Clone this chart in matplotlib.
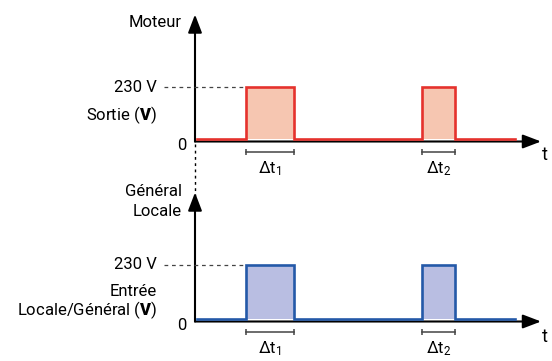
import matplotlib
matplotlib.use("Agg")
import matplotlib.pyplot as plt
from matplotlib.lines import Line2D
from matplotlib import transforms

plt.rcParams['font.family'] = ['Roboto', 'DejaVu Sans']
plt.rcParams['mathtext.fontset'] = 'custom'
plt.rcParams['mathtext.rm'] = 'Roboto'
plt.rcParams['mathtext.it'] = 'Roboto'
plt.rcParams['mathtext.bf'] = 'Roboto:black'

# ---- data ----
time = [0.05, 1.06, 1.06, 2.06, 2.06, 4.73, 4.73, 5.42, 5.42, 6.67]
moteur_v = [0, 0, 230, 230, 0, 0, 230, 230, 0, 0]
entree_v = [0, 0, 230, 230, 0, 0, 230, 230, 0, 0]
pulses = [(1.06, 2.06), (4.73, 5.42)]
dt_labels = [r'Δt$_{1}$', r'Δt$_{2}$']
level_label = '230 V'
level = 230

RED, RED_FILL = '#e5322d', '#f6c6b1'
BLUE, BLUE_FILL = '#2459a8', '#b9bee2'
GRAY = '#444444'
FS = 12

W, H = 552, 361
fig = plt.figure(figsize=(W / 100, H / 100), dpi=100)

xmax = 7.21
ax1 = fig.add_axes([195 / W, (H - 139) / H, 346 / W, 127 / H])
ax2 = fig.add_axes([195 / W, (H - 319) / H, 346 / W, 129 / H])
ax1.set_ylim(0, 562)
ax2.set_ylim(0, 549)


def draw(ax, v, col, fcol, title_lines, side_lines, t_dy):
    ax.set_xlim(0, xmax)
    ax.axis('off')
    # pulses fill
    for (a, b) in pulses:
        ax.fill_between([a, b], 0, level, color=fcol, lw=0, zorder=1)
    ax.plot(time, v, color=col, lw=1.9, zorder=3, solid_joinstyle='miter',
            clip_on=False)
    # axes arrows
    down = transforms.offset_copy(ax.transAxes, fig, x=0, y=-2.5, units='dots')
    ax.annotate('', xy=(1, 0), xytext=(0, 0), xycoords=down, textcoords=down,
                arrowprops=dict(arrowstyle='-|>,head_length=1.1,head_width=0.42',
                                mutation_scale=10, color='black', lw=1.5,
                                shrinkA=0, shrinkB=0), zorder=2)
    ax.annotate('', xy=(0, 1), xytext=(0, 0), xycoords=down, textcoords=down,
                arrowprops=dict(arrowstyle='-|>,head_length=1.1,head_width=0.42',
                                mutation_scale=10, color='black', lw=1.5,
                                shrinkA=0, shrinkB=0), zorder=2)
    # dashed level line
    ax.plot([-0.64, pulses[0][0]], [level, level], color=GRAY, lw=0.9,
            ls=(0, (3, 3)), clip_on=False)
    # level labels
    ax.annotate(level_label, xy=(0, level), xytext=(-38, 0),
                textcoords='offset pixels', ha='right', va='center', fontsize=FS)
    ax.annotate('0', xy=(0, 0), xytext=(-8, -6), textcoords='offset pixels',
                ha='right', va='center', fontsize=FS)
    for txt, dy in title_lines:
        ax.annotate(txt, xy=(0, 1), xycoords='axes fraction', xytext=(-13, dy),
                    textcoords='offset pixels', ha='right', va='center',
                    fontsize=FS)
    for txt, dy in side_lines:
        ax.annotate(txt, xy=(0, 0), xytext=(-38, dy), textcoords='offset pixels',
                    ha='right', va='center', fontsize=FS)
    ax.annotate('t', xy=(xmax, 0), xytext=(4, t_dy), textcoords='offset pixels',
                ha='center', va='center', fontsize=FS + 1)
    # delta-t brackets
    br = transforms.offset_copy(ax.transData, fig, x=0, y=-13, units='dots')
    for (a, b), lab in zip(pulses, dt_labels):
        ax.plot([a, b], [0, 0], color=GRAY, lw=1.1, transform=br, clip_on=False,
                marker='|', markersize=5, markeredgewidth=1.1)
        ax.annotate(lab, xy=((a + b) / 2, 0), xytext=(0, -30),
                    textcoords='offset pixels', ha='center', va='center',
                    fontsize=FS)


draw(ax1, moteur_v, RED, RED_FILL,
     [('Moteur', -11)],
     [(r'Sortie ($\mathbf{V}$)', 24)], -16)
draw(ax2, entree_v, BLUE, BLUE_FILL,
     [('Général', -1), ('Locale', -21)],
     [('Entrée', 28), (r'Locale/Général ($\mathbf{V}$)', 9)], -18)

# dotted connector between the two diagrams
fig.add_artist(Line2D([195 / W, 195 / W], [(H - 144) / H, (H - 196) / H],
                      color='black', lw=1.0, ls=(0, (2, 2.5))))

fig.savefig('out.png', dpi=100)
